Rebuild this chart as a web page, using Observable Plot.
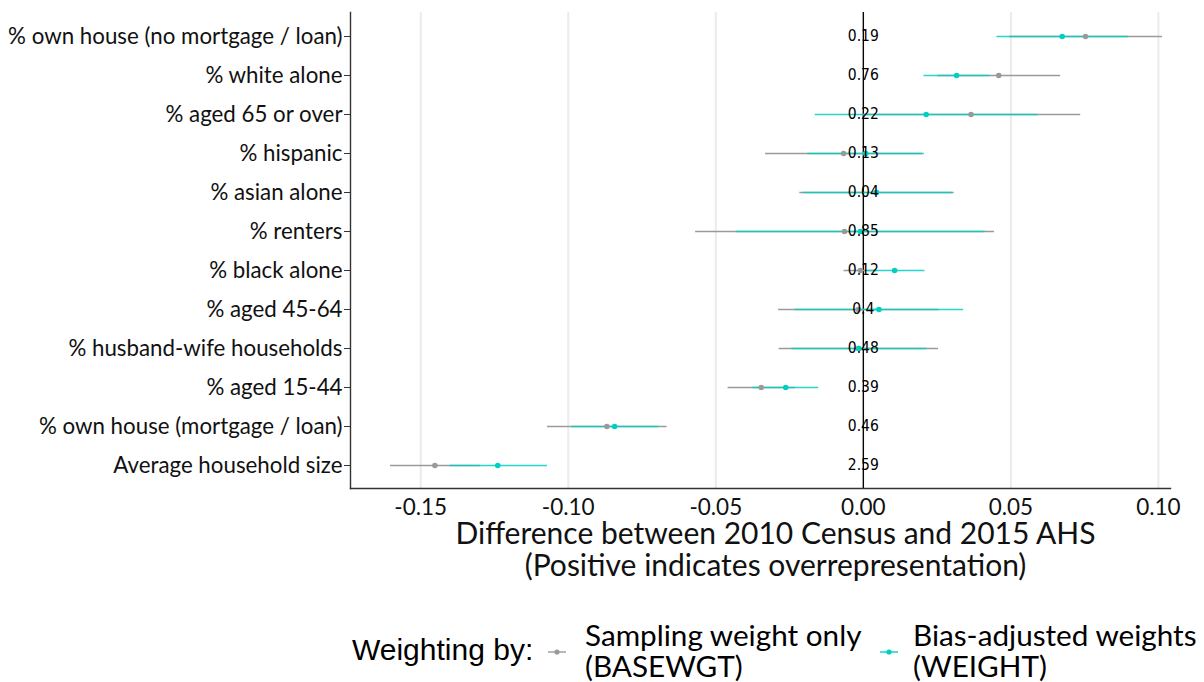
<!DOCTYPE html>
<html>
<head>
<meta charset="utf-8">
<script src="https://cdn.jsdelivr.net/npm/d3@7"></script>
<script src="https://cdn.jsdelivr.net/npm/@observablehq/plot@0.6"></script>
<style>
  html, body { margin: 0; padding: 0; background: #fff; }
  #wrap { width: 1204px; height: 682px; position: relative; overflow: hidden; }
  #legend { position: relative; width: 1204px; height: 92px; }
  #legend .t { position: absolute; color: #000; white-space: nowrap; }
  #legend .title { font-family: "Liberation Sans", Arial, sans-serif; font-size: 30px; left: 352px; top: 43px; line-height: 34px; }
  #legend .lab { font-family: Lato, sans-serif; font-size: 29.7px; line-height: 31px; top: 29px; }
  #legend svg { position: absolute; top: 55px; }
</style>
</head>
<body>
<div id="wrap">
  <div id="chart"></div>
  <div id="legend"></div>
</div>
<script>
// ---- data (top to bottom) ----
const categories = [
  "% own house (no mortgage / loan)",
  "% white alone",
  "% aged 65 or over",
  "% hispanic",
  "% asian alone",
  "% renters",
  "% black alone",
  "% aged 45-64",
  "% husband-wife households",
  "% aged 15-44",
  "% own house (mortgage / loan)",
  "Average household size"
];
const ratioLabels = ["0.19","0.76","0.22","0.13","0.04","0.85","0.12","0.4","0.48","0.39","0.46","2.59"];

// Sampling weight only (BASEWGT)
const baseEst = [0.0753, 0.0459, 0.0365, -0.0067, 0.0044, -0.0064, -0.0010, -0.0017, -0.0017, -0.0346, -0.0869, -0.1452];
const baseLo  = [0.0494, 0.0251, -0.0005, -0.0333, -0.0217, -0.0570, -0.0067, -0.0289, -0.0287, -0.0460, -0.1072, -0.1604];
const baseHi  = [0.1012, 0.0667, 0.0735, 0.0199, 0.0306, 0.0443, 0.0047, 0.0255, 0.0253, -0.0232, -0.0667, -0.1300];

// Bias-adjusted weights (WEIGHT)
const adjEst = [0.0674, 0.0316, 0.0213, 0.0008, 0.0044, -0.0010, 0.0106, 0.0053, -0.0015, -0.0263, -0.0843, -0.1239];
const adjLo  = [0.0451, 0.0204, -0.0165, -0.0190, -0.0204, -0.0432, 0.0007, -0.0233, -0.0244, -0.0376, -0.0990, -0.1402];
const adjHi  = [0.0897, 0.0428, 0.0590, 0.0205, 0.0301, 0.0411, 0.0207, 0.0338, 0.0213, -0.0153, -0.0695, -0.1072];

const xTicks = [-0.15, -0.10, -0.05, 0.00, 0.05, 0.10];
const xDomain = [-0.1738, 0.1041];
const seriesNames = ["Sampling weight only\n(BASEWGT)", "Bias-adjusted weights\n(WEIGHT)"];
const axisTitle = "Difference between 2010 Census and 2015 AHS\n(Positive indicates overrepresentation)";
const legendTitle = "Weighting by:";

const GRAY = "#9a9a9a";
const TEAL = "#00cfc1";

const base = categories.map((c, i) => ({cat: c, est: baseEst[i], lo: baseLo[i], hi: baseHi[i]}));
const adj  = categories.map((c, i) => ({cat: c, est: adjEst[i], lo: adjLo[i], hi: adjHi[i]}));
const labs = categories.map((c, i) => ({cat: c, x: 0, label: ratioLabels[i]}));

const chart = Plot.plot({
  width: 1204,
  height: 590,
  marginLeft: 350,
  marginRight: 34,
  marginTop: 12,
  marginBottom: 102,
  style: {background: "#fff", overflow: "visible"},
  x: {domain: xDomain},
  y: {type: "point", domain: categories, padding: 0.6},
  marks: [
    Plot.gridX(xTicks, {stroke: "#ebebeb", strokeOpacity: 1, strokeWidth: 2}),
    Plot.ruleX([0], {stroke: "#000", strokeWidth: 1.3}),
    Plot.frame({anchor: "left", stroke: "#333", strokeWidth: 1.4}),
    Plot.frame({anchor: "bottom", stroke: "#333", strokeWidth: 1.4}),
    Plot.axisY({tickSize: 6, tickPadding: 2, fontSize: 22.3, fontFamily: "Lato", fill: "#111", label: null, stroke: "#333"}),
    Plot.axisX({ticks: xTicks, tickSize: 0, tickPadding: 11, fontSize: 22.5, fontFamily: "Lato", fill: "#111", label: null,
      tickFormat: d => d3.format(".2f")(d).replace("−", "-")}),
    Plot.link(base, {x1: "lo", x2: "hi", y1: "cat", y2: "cat", stroke: GRAY, strokeWidth: 1.6}),
    Plot.link(adj, {x1: "lo", x2: "hi", y1: "cat", y2: "cat", stroke: TEAL, strokeWidth: 1.6, strokeOpacity: 0.85}),
    Plot.dot(base, {x: "est", y: "cat", r: 2.8, fill: GRAY, stroke: "none"}),
    Plot.dot(adj, {x: "est", y: "cat", r: 2.8, fill: TEAL, stroke: "none"}),
    Plot.text(labs, {x: "x", y: "cat", text: "label", fontSize: 15.5, fontFamily: "'Liberation Sans Narrow', 'DejaVu Sans Condensed', sans-serif", fill: "#000"}),
    Plot.text([axisTitle], {frameAnchor: "bottom", lineAnchor: "middle", dy: 61, dx: 15, fontSize: 30, lineHeight: 1.07, fontFamily: "Lato", fill: "#111"})
  ]
});
document.getElementById("chart").appendChild(chart);

// ---- legend (below the chart) ----
const lg = document.getElementById("legend");
const t = document.createElement("div");
t.className = "t title";
t.textContent = legendTitle;
lg.appendChild(t);
const keyLeft = [546, 878];
const labLeft = [585, 913];
const keyColors = [GRAY, TEAL];
seriesNames.forEach((name, i) => {
  const ns = "http://www.w3.org/2000/svg";
  const s = document.createElementNS(ns, "svg");
  s.setAttribute("width", 22); s.setAttribute("height", 14);
  s.style.left = keyLeft[i] + "px";
  const l = document.createElementNS(ns, "line");
  l.setAttribute("x1", 2); l.setAttribute("x2", 20); l.setAttribute("y1", 7); l.setAttribute("y2", 7);
  l.setAttribute("stroke", keyColors[i]); l.setAttribute("stroke-width", 1.4);
  const c = document.createElementNS(ns, "circle");
  c.setAttribute("cx", 11); c.setAttribute("cy", 7); c.setAttribute("r", 2.6); c.setAttribute("fill", keyColors[i]);
  s.appendChild(l); s.appendChild(c);
  lg.appendChild(s);
  const d = document.createElement("div");
  d.className = "t lab";
  d.style.left = labLeft[i] + "px";
  d.innerHTML = name.split("\n").map(x => x.replace(/&/g, "&amp;").replace(/</g, "&lt;")).join("<br>");
  lg.appendChild(d);
});
</script>
</body>
</html>
